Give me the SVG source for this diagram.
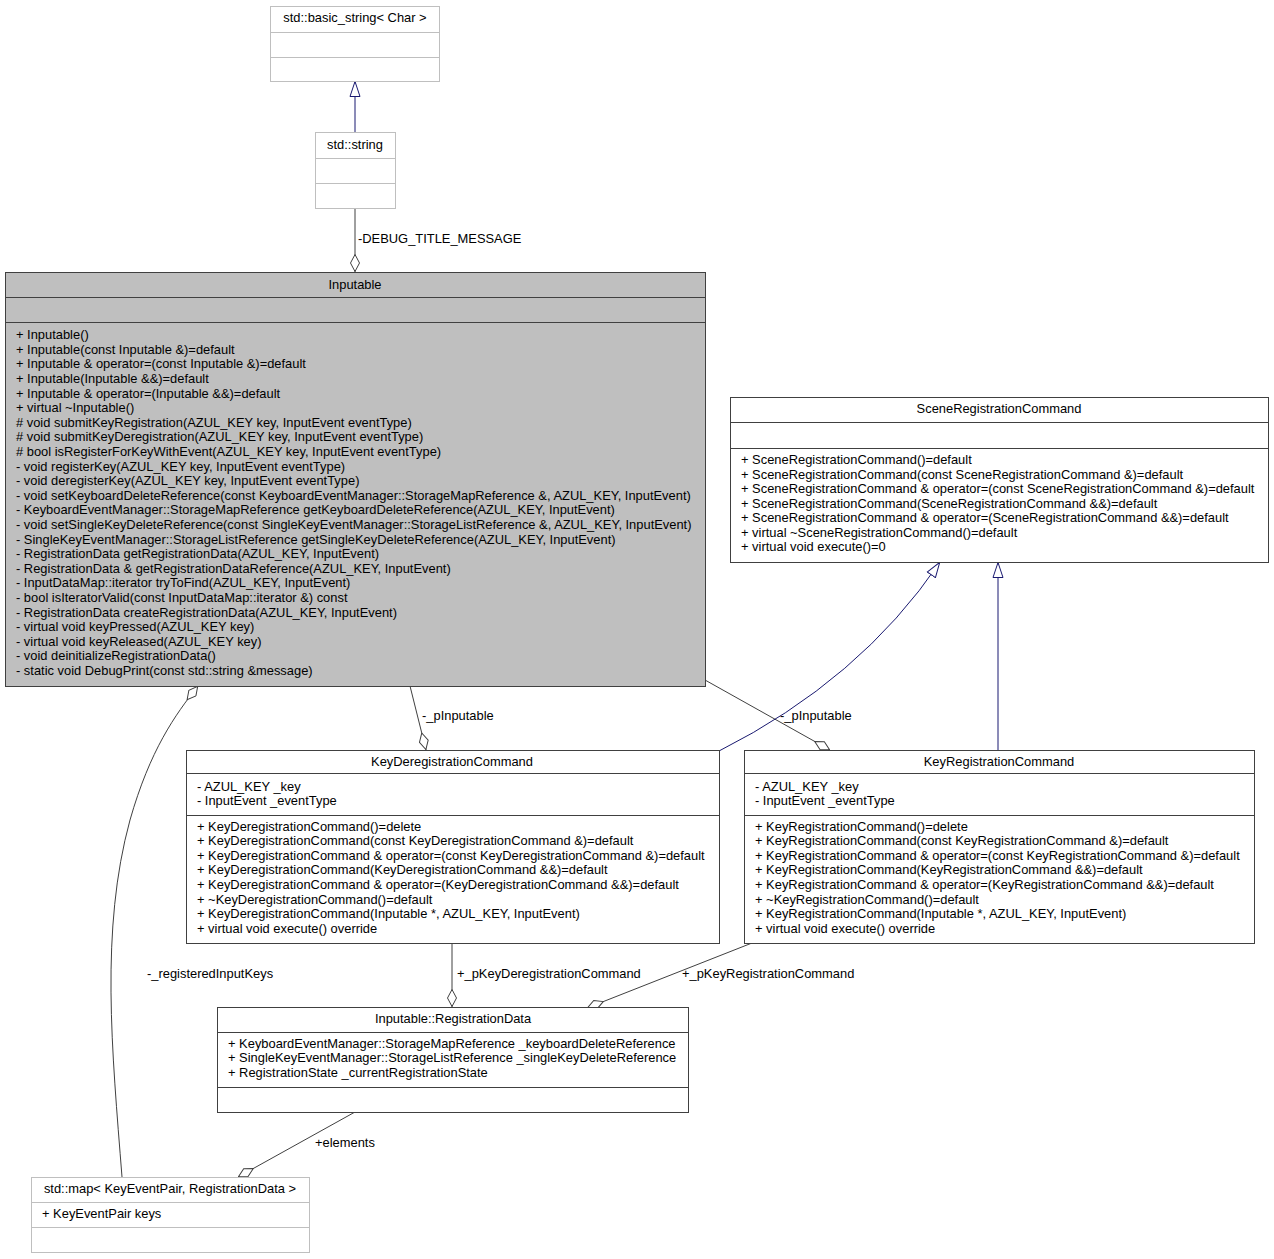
<svg xmlns="http://www.w3.org/2000/svg" width="1274" height="1259" viewBox="0 0 1274 1259">
<style>
text{font-family:"Liberation Sans",Arial,sans-serif;font-size:12.9px;fill:#000}
.t{text-anchor:middle}
.box{fill:#fff;stroke:#404040;stroke-width:1}
.gbox{fill:#fff;stroke:#bfbfbf;stroke-width:1}
.sel{fill:#bfbfbf;stroke:#404040;stroke-width:1}
.ln{fill:none;stroke:#404040;stroke-width:1}
.gln{fill:none;stroke:#bfbfbf;stroke-width:1}
.edge{fill:none;stroke:#404040;stroke-width:1}
.inh{fill:none;stroke:#191970;stroke-width:1}
</style>
<defs>
<marker id="dia" viewBox="0 0 18 10" refX="18" refY="5" markerWidth="18" markerHeight="10" markerUnits="userSpaceOnUse" orient="auto">
<path d="M0.5,5 L9,0.5 L17.5,5 L9,9.5 Z" fill="#fff" stroke="#404040" stroke-width="1"/>
</marker>
<marker id="tri" viewBox="0 0 16 12" refX="16" refY="6" markerWidth="16" markerHeight="12" markerUnits="userSpaceOnUse" orient="auto">
<path d="M0.5,1 L15.5,6 L0.5,11 Z" fill="#fff" stroke="#191970" stroke-width="1"/>
</marker>
</defs>

<g id="edges">
<path class="inh" d="M355,132 L355,81" marker-end="url(#tri)"/>
<path class="edge" d="M355,208 L355,272" marker-end="url(#dia)"/>
<text x="358" y="243">-DEBUG_TITLE_MESSAGE</text>
<path class="edge" d="M410,686 L426,750" marker-end="url(#dia)"/>
<text x="422" y="720">-_pInputable</text>
<path class="edge" d="M705,680 L830,750" marker-end="url(#dia)"/>
<text x="780" y="720">-_pInputable</text>
<path class="inh" d="M719,751 Q860,680 940,562" marker-end="url(#tri)"/>
<path class="inh" d="M998,750 L998,562" marker-end="url(#tri)"/>
<path class="edge" d="M452,943 L452,1007" marker-end="url(#dia)"/>
<text x="457" y="978">+_pKeyDeregistrationCommand</text>
<path class="edge" d="M752,943 L587,1008" marker-end="url(#dia)"/>
<text x="682" y="978">+_pKeyRegistrationCommand</text>
<path class="edge" d="M355,1112 L238,1177" marker-end="url(#dia)"/>
<text x="315" y="1147">+elements</text>
<path class="edge" d="M122,1177 C112,1050 100,930 130,820 C150,750 175,715 198,686" marker-end="url(#dia)"/>
<text x="147" y="978">-_registeredInputKeys</text>
</g>

<g id="basic_string">
<rect class="gbox" x="270.5" y="6.5" width="169" height="75"/>
<path class="gln" d="M270.5,32.5 H439.5 M270.5,57.5 H439.5"/>
<text class="t" x="355" y="22">std::basic_string&lt; Char &gt;</text>
</g>

<g id="std_string">
<rect class="gbox" x="315.5" y="132.5" width="80" height="76"/>
<path class="gln" d="M315.5,158.5 H395.5 M315.5,183.5 H395.5"/>
<text class="t" x="355" y="149">std::string</text>
</g>

<g id="Inputable">
<rect class="sel" x="5.5" y="272.5" width="700" height="414"/>
<path class="ln" d="M5.5,297.5 H705.5 M5.5,322.5 H705.5"/>
<text class="t" x="355" y="289">Inputable</text>
<text x="16" y="339">+ Inputable()</text>
<text x="16" y="354">+ Inputable(const Inputable &amp;)=default</text>
<text x="16" y="368">+ Inputable &amp; operator=(const Inputable &amp;)=default</text>
<text x="16" y="383">+ Inputable(Inputable &amp;&amp;)=default</text>
<text x="16" y="398">+ Inputable &amp; operator=(Inputable &amp;&amp;)=default</text>
<text x="16" y="412">+ virtual ~Inputable()</text>
<text x="16" y="427"># void submitKeyRegistration(AZUL_KEY key, InputEvent eventType)</text>
<text x="16" y="441"># void submitKeyDeregistration(AZUL_KEY key, InputEvent eventType)</text>
<text x="16" y="456"># bool isRegisterForKeyWithEvent(AZUL_KEY key, InputEvent eventType)</text>
<text x="16" y="471">- void registerKey(AZUL_KEY key, InputEvent eventType)</text>
<text x="16" y="485">- void deregisterKey(AZUL_KEY key, InputEvent eventType)</text>
<text x="16" y="500">- void setKeyboardDeleteReference(const KeyboardEventManager::StorageMapReference &amp;, AZUL_KEY, InputEvent)</text>
<text x="16" y="514">- KeyboardEventManager::StorageMapReference getKeyboardDeleteReference(AZUL_KEY, InputEvent)</text>
<text x="16" y="529">- void setSingleKeyDeleteReference(const SingleKeyEventManager::StorageListReference &amp;, AZUL_KEY, InputEvent)</text>
<text x="16" y="544">- SingleKeyEventManager::StorageListReference getSingleKeyDeleteReference(AZUL_KEY, InputEvent)</text>
<text x="16" y="558">- RegistrationData getRegistrationData(AZUL_KEY, InputEvent)</text>
<text x="16" y="573">- RegistrationData &amp; getRegistrationDataReference(AZUL_KEY, InputEvent)</text>
<text x="16" y="587">- InputDataMap::iterator tryToFind(AZUL_KEY, InputEvent)</text>
<text x="16" y="602">- bool isIteratorValid(const InputDataMap::iterator &amp;) const</text>
<text x="16" y="617">- RegistrationData createRegistrationData(AZUL_KEY, InputEvent)</text>
<text x="16" y="631">- virtual void keyPressed(AZUL_KEY key)</text>
<text x="16" y="646">- virtual void keyReleased(AZUL_KEY key)</text>
<text x="16" y="660">- void deinitializeRegistrationData()</text>
<text x="16" y="675">- static void DebugPrint(const std::string &amp;message)</text>
</g>

<g id="SceneRegistrationCommand">
<rect class="box" x="730.5" y="397.5" width="538" height="165"/>
<path class="ln" d="M730.5,422.5 H1268.5 M730.5,448.5 H1268.5"/>
<text class="t" x="999" y="413">SceneRegistrationCommand</text>
<text x="741" y="464">+ SceneRegistrationCommand()=default</text>
<text x="741" y="479">+ SceneRegistrationCommand(const SceneRegistrationCommand &amp;)=default</text>
<text x="741" y="493">+ SceneRegistrationCommand &amp; operator=(const SceneRegistrationCommand &amp;)=default</text>
<text x="741" y="508">+ SceneRegistrationCommand(SceneRegistrationCommand &amp;&amp;)=default</text>
<text x="741" y="522">+ SceneRegistrationCommand &amp; operator=(SceneRegistrationCommand &amp;&amp;)=default</text>
<text x="741" y="537">+ virtual ~SceneRegistrationCommand()=default</text>
<text x="741" y="551">+ virtual void execute()=0</text>
</g>

<g id="KeyDeregistrationCommand">
<rect class="box" x="186.5" y="750.5" width="533" height="193"/>
<path class="ln" d="M186.5,773.5 H719.5 M186.5,815.5 H719.5"/>
<text class="t" x="452" y="766">KeyDeregistrationCommand</text>
<text x="197" y="791">- AZUL_KEY _key</text>
<text x="197" y="805">- InputEvent _eventType</text>
<text x="197" y="831">+ KeyDeregistrationCommand()=delete</text>
<text x="197" y="845">+ KeyDeregistrationCommand(const KeyDeregistrationCommand &amp;)=default</text>
<text x="197" y="860">+ KeyDeregistrationCommand &amp; operator=(const KeyDeregistrationCommand &amp;)=default</text>
<text x="197" y="874">+ KeyDeregistrationCommand(KeyDeregistrationCommand &amp;&amp;)=default</text>
<text x="197" y="889">+ KeyDeregistrationCommand &amp; operator=(KeyDeregistrationCommand &amp;&amp;)=default</text>
<text x="197" y="904">+ ~KeyDeregistrationCommand()=default</text>
<text x="197" y="918">+ KeyDeregistrationCommand(Inputable *, AZUL_KEY, InputEvent)</text>
<text x="197" y="933">+ virtual void execute() override</text>
</g>

<g id="KeyRegistrationCommand">
<rect class="box" x="744.5" y="750.5" width="510" height="193"/>
<path class="ln" d="M744.5,773.5 H1254.5 M744.5,815.5 H1254.5"/>
<text class="t" x="999" y="766">KeyRegistrationCommand</text>
<text x="755" y="791">- AZUL_KEY _key</text>
<text x="755" y="805">- InputEvent _eventType</text>
<text x="755" y="831">+ KeyRegistrationCommand()=delete</text>
<text x="755" y="845">+ KeyRegistrationCommand(const KeyRegistrationCommand &amp;)=default</text>
<text x="755" y="860">+ KeyRegistrationCommand &amp; operator=(const KeyRegistrationCommand &amp;)=default</text>
<text x="755" y="874">+ KeyRegistrationCommand(KeyRegistrationCommand &amp;&amp;)=default</text>
<text x="755" y="889">+ KeyRegistrationCommand &amp; operator=(KeyRegistrationCommand &amp;&amp;)=default</text>
<text x="755" y="904">+ ~KeyRegistrationCommand()=default</text>
<text x="755" y="918">+ KeyRegistrationCommand(Inputable *, AZUL_KEY, InputEvent)</text>
<text x="755" y="933">+ virtual void execute() override</text>
</g>

<g id="RegistrationData">
<rect class="box" x="217.5" y="1007.5" width="471" height="105"/>
<path class="ln" d="M217.5,1032.5 H688.5 M217.5,1087.5 H688.5"/>
<text class="t" x="453" y="1023">Inputable::RegistrationData</text>
<text x="228" y="1048">+ KeyboardEventManager::StorageMapReference _keyboardDeleteReference</text>
<text x="228" y="1062">+ SingleKeyEventManager::StorageListReference _singleKeyDeleteReference</text>
<text x="228" y="1077">+ RegistrationState _currentRegistrationState</text>
</g>

<g id="std_map">
<rect class="gbox" x="31.5" y="1177.5" width="278" height="75"/>
<path class="gln" d="M31.5,1202.5 H309.5 M31.5,1227.5 H309.5"/>
<text class="t" x="170" y="1193">std::map&lt; KeyEventPair, RegistrationData &gt;</text>
<text x="42" y="1218">+ KeyEventPair keys</text>
</g>
</svg>
